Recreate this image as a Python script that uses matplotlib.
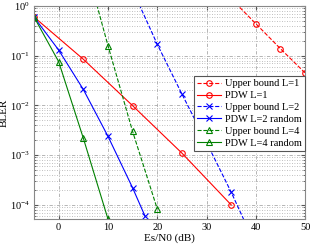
import matplotlib
matplotlib.use("Agg")
import matplotlib.pyplot as plt
import numpy as np

plt.rcParams['font.family'] = ['Liberation Serif', 'DejaVu Serif']
plt.rcParams['mathtext.fontset'] = 'stix'

ub1_x = [35, 40, 45, 50]
ub1_y = [1.4, 0.44, 0.138, 0.045]
pdw1_x = [-5, 5, 15, 25, 35]
pdw1_y = [0.6, 0.085, 0.0099, 0.0011, 1.0e-4]
ub2_x = [15, 20, 25, 30, 35, 40]
ub2_y = [2.1, 0.17, 0.017, 1.8e-3, 1.8e-4, 1.5e-5]
pdw2_x = [-5, 0, 5, 10, 15, 17.5]
pdw2_y = [0.6, 0.13, 0.021, 0.0024, 2.2e-4, 6e-5]
ub4_x = [5, 10, 15, 20]
ub4_y = [10.5, 0.16, 0.003, 8.3e-5]
pdw4_x = [-5, 0, 5, 10]
pdw4_y = [0.6, 0.076, 0.0022, 5.2e-5]

labels = ['Upper bound L=1', 'PDW L=1', 'Upper bound L=2', 'PDW L=2 random',
          'Upper bound L=4', 'PDW L=4 random']

fig = plt.figure(figsize=(3.12, 2.5), dpi=100)
ax = fig.add_axes([0.109, 0.124, 0.869, 0.852])

red, blue, green = '#ff0000', '#0000ff', '#008000'
ms = 4
kw = dict(ms=ms, lw=0.8, mew=0.8)
ax.semilogy(ub1_x, ub1_y, '--o', color=red, mfc='none', label=labels[0], **kw)
ax.semilogy(pdw1_x, pdw1_y, '-o', color=red, mfc='none', label=labels[1], **kw)
ax.semilogy(ub2_x, ub2_y, '--x', color=blue, label=labels[2], **kw)
ax.semilogy(pdw2_x, pdw2_y, '-x', color=blue, label=labels[3], **kw)
ax.semilogy(ub4_x, ub4_y, '--^', color=green, mfc='none', label=labels[4], **kw)
ax.semilogy(pdw4_x, pdw4_y, '-^', color=green, mfc='none', label=labels[5], **kw)

ax.set_xlim(-5, 50)
ax.set_ylim(5.2e-5, 1)
ax.set_xticks([0, 10, 20, 30, 40, 50])
ax.set_xlabel('Es/N0 (dB)', fontsize=8, labelpad=1)
ax.set_ylabel('BLER', fontsize=8, labelpad=1)
ax.tick_params(axis='both', which='both', direction='in', labelsize=7.5,
               color='#555555', pad=3, top=True, right=True)
ax.tick_params(which='major', length=3)
ax.tick_params(which='minor', length=1.5)
ax.grid(True, which='major', color='#aaaaaa', linestyle=(0, (4, 2, 1, 2)), lw=0.6)
ax.grid(True, which='minor', axis='y', color='#aaaaaa', linestyle=(0, (1, 2)), lw=0.6)
for s in ax.spines.values():
    s.set_color('#888888')
    s.set_linewidth(0.8)

leg = ax.legend(loc='upper right', bbox_to_anchor=(1.0, 0.672), fontsize=7.5,
                handlelength=2.3, borderpad=0.3, labelspacing=0.25,
                handletextpad=0.4, borderaxespad=0.0, fancybox=False,
                framealpha=1, edgecolor='#555555')
leg.get_frame().set_linewidth(0.8)

fig.savefig('out.png', dpi=100)
